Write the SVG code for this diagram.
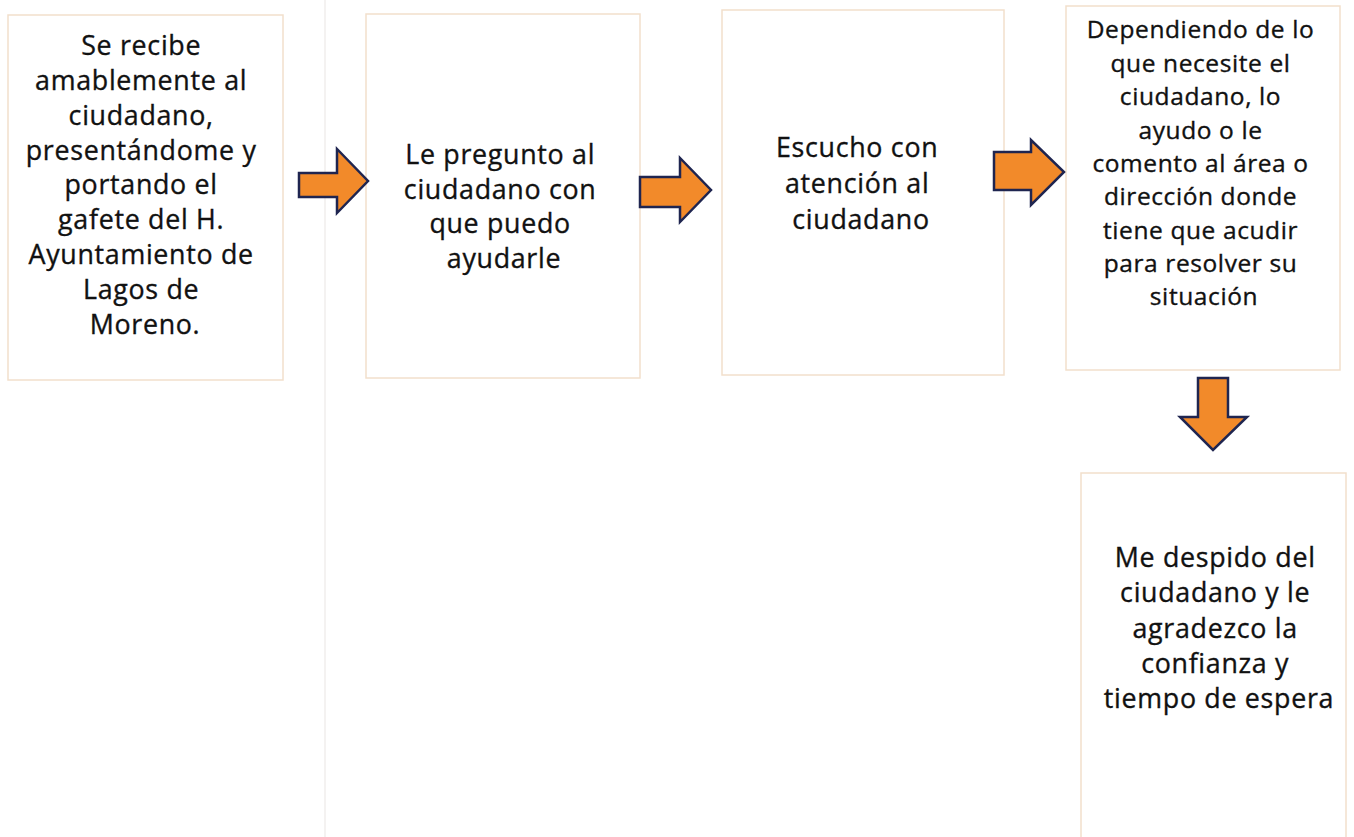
<svg xmlns="http://www.w3.org/2000/svg" width="1354" height="837" viewBox="0 0 1354 837">
<style>
.box{fill:#FFFFFF;stroke:#F2DFCC;stroke-width:1.5}
.arrow{fill:#F28A2A;stroke:#1F2550;stroke-width:2.5;stroke-linejoin:miter}
.t{font-family:"Open Sans",Lato,"Liberation Sans",sans-serif;font-size:26.8px;letter-spacing:0.7px;font-weight:500;fill:#111111;stroke:#111111;stroke-width:0.35;text-anchor:middle}
.s{font-size:24.5px;letter-spacing:0.6px}
</style>
<rect x="0" y="0" width="1354" height="837" fill="#FFFFFF"/>
<line x1="325" y1="0" x2="325" y2="837" stroke="#F0EEEC" stroke-width="1.5"/>
<g id="node1">
<rect class="box" x="8" y="15" width="275" height="365"/>
<text class="t">
<tspan x="145" y="55">Se recibe</tspan>
<tspan x="145" y="90">amablemente al</tspan>
<tspan x="145" y="125">ciudadano,</tspan>
<tspan x="145" y="160">presentándome y</tspan>
<tspan x="145" y="194">portando el</tspan>
<tspan x="145" y="229">gafete del H.</tspan>
<tspan x="145" y="264">Ayuntamiento de</tspan>
<tspan x="145" y="299">Lagos de</tspan>
<tspan x="145" y="334">Moreno.</tspan>
</text>
</g>
<g id="node2">
<rect class="box" x="366" y="14" width="274" height="364"/>
<text class="t">
<tspan x="504" y="164">Le pregunto al</tspan>
<tspan x="504" y="199">ciudadano con</tspan>
<tspan x="504" y="233">que puedo</tspan>
<tspan x="504" y="268">ayudarle</tspan>
</text>
</g>
<g id="node3">
<rect class="box" x="722" y="10" width="282" height="365"/>
<text class="t">
<tspan x="861" y="157">Escucho con</tspan>
<tspan x="861" y="193">atención al</tspan>
<tspan x="861" y="229">ciudadano</tspan>
</text>
</g>
<g id="node4">
<rect class="box" x="1066" y="6" width="274" height="364"/>
<text class="t s">
<tspan x="1204" y="38">Dependiendo de lo</tspan>
<tspan x="1204" y="72">que necesite el</tspan>
<tspan x="1204" y="105">ciudadano, lo</tspan>
<tspan x="1204" y="139">ayudo o le</tspan>
<tspan x="1204" y="172">comento al área o</tspan>
<tspan x="1204" y="205">dirección donde</tspan>
<tspan x="1204" y="239">tiene que acudir</tspan>
<tspan x="1204" y="272">para resolver su</tspan>
<tspan x="1204" y="305">situación</tspan>
</text>
</g>
<g id="node5">
<rect class="box" x="1081" y="473" width="265" height="370"/>
<text class="t">
<tspan x="1219" y="567">Me despido del</tspan>
<tspan x="1219" y="602">ciudadano y le</tspan>
<tspan x="1219" y="638">agradezco la</tspan>
<tspan x="1219" y="673">confianza y</tspan>
<tspan x="1219" y="708">tiempo de espera</tspan>
</text>
</g>
<g id="connectors">
<polygon class="arrow" points="299,173 337,173 337,149 368,181 337,213 337,197 299,197"/>
<polygon class="arrow" points="640,177 680,177 680,158 711,190 680,222 680,207 640,207"/>
<polygon class="arrow" points="994,152 1031,152 1031,140 1064,172 1031,205 1031,190 994,190"/>
<polygon class="arrow" points="1198,378 1228,378 1228,417 1247,417 1213,450 1180,417 1198,417"/>
</g>
</svg>
